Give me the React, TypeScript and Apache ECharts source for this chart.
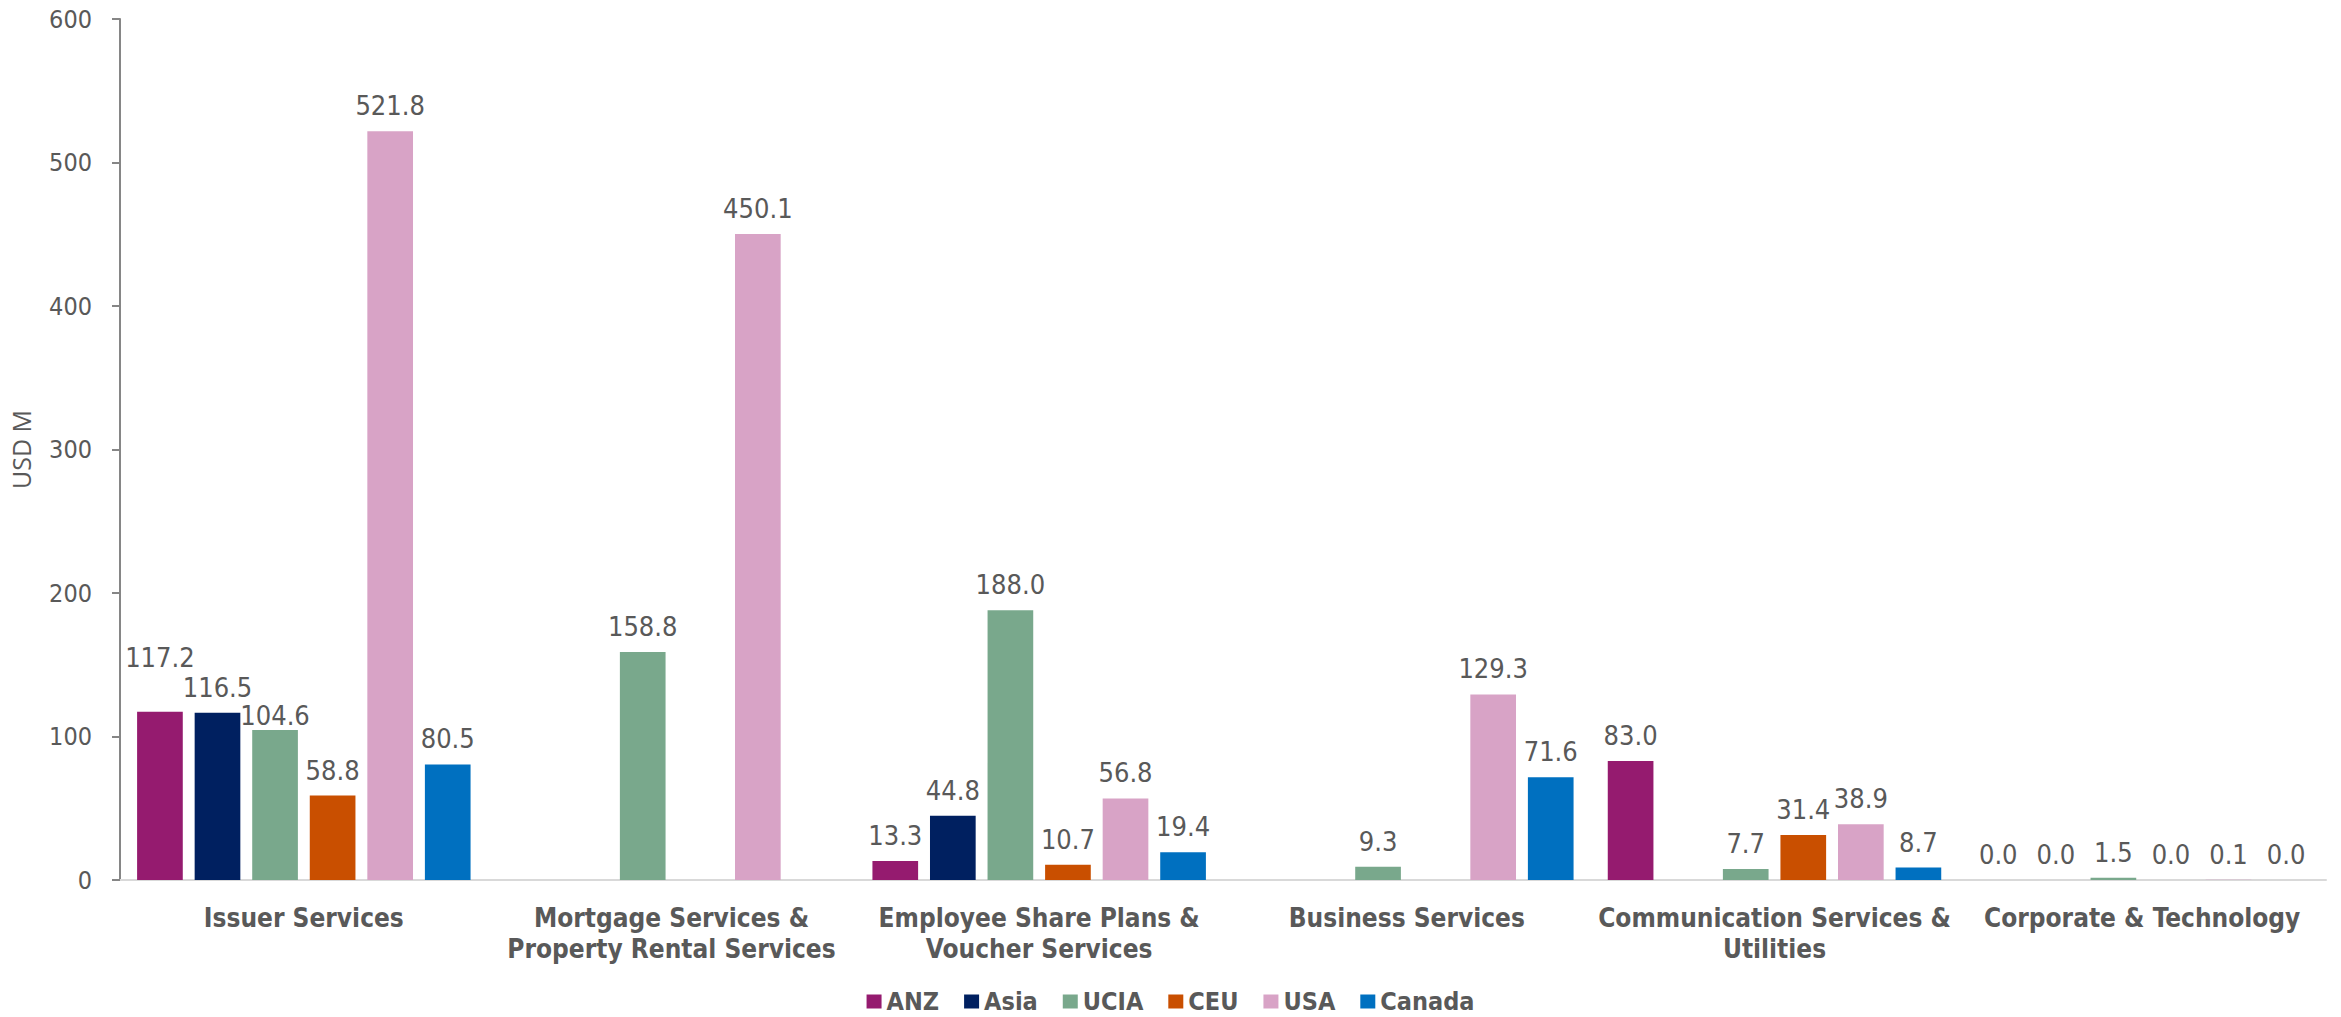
import React, { useEffect, useRef } from "react";
import * as echarts from "echarts";

const categories = [
  "Issuer Services",
  "Mortgage Services &\nProperty Rental Services",
  "Employee Share Plans &\nVoucher Services",
  "Business Services",
  "Communication Services &\nUtilities",
  "Corporate & Technology",
];

const seriesNames = ["ANZ", "Asia", "UCIA", "CEU", "USA", "Canada"];
const anz = [117.2, null, 13.3, null, 83.0, 0.0];
const asia = [116.5, null, 44.8, null, null, 0.0];
const ucia = [104.6, 158.8, 188.0, 9.3, 7.7, 1.5];
const ceu = [58.8, null, 10.7, null, 31.4, 0.0];
const usa = [521.8, 450.1, 56.8, 129.3, 38.9, 0.1];
const canada = [80.5, null, 19.4, 71.6, 8.7, 0.0];
const seriesData = [anz, asia, ucia, ceu, usa, canada];
const colors = ["#951B6F", "#002060", "#79A88C", "#C94F00", "#D8A3C6", "#0070C0"];

// label stagger (series index, category index) -> vertical shift, as in the reference
const labelShifts: Record<string, number> = { "0-0": -29, "2-0": 11 };

const yTicks = [0, 100, 200, 300, 400, 500, 600];

const FONT = "'DejaVu Sans Condensed', 'DejaVu Sans', sans-serif";
const TEXT = "#595959";

export default function App() {
  const ref = useRef<HTMLDivElement>(null);
  useEffect(() => {
    if (!ref.current) return;
    const chart = echarts.init(ref.current, undefined, { renderer: "svg" });
    chart.setOption({
      animation: false,
      color: colors,
      legend: {
        data: seriesNames,
        left: "center",
        top: 989,
        padding: 0,
        itemWidth: 15,
        itemHeight: 14,
        itemGap: 25,
        icon: "rect",
        textStyle: {
          color: TEXT,
          fontSize: 25,
          lineHeight: 22,
          fontWeight: "bold",
          fontFamily: FONT,
        },
      },
      grid: { left: 118, right: 15, top: 19, bottom: 137 },
      xAxis: {
        type: "category",
        data: categories,
        axisLine: { show: true, lineStyle: { color: "#D9D9D9", width: 2 } },
        axisTick: { show: false },
        axisLabel: {
          interval: 0,
          margin: 22,
          color: TEXT,
          fontSize: 26,
          lineHeight: 31,
          fontWeight: "bold",
          fontFamily: FONT,
        },
      },
      yAxis: {
        type: "value",
        min: yTicks[0],
        max: yTicks[yTicks.length - 1],
        interval: 100,
        name: "USD M",
        nameLocation: "middle",
        nameGap: 87,
        nameTextStyle: { color: TEXT, fontSize: 25, fontFamily: "'Open Sans', sans-serif" },
        splitLine: { show: false },
        axisLine: { show: true, lineStyle: { color: "#868686", width: 2 } },
        axisTick: { show: true, length: 8, lineStyle: { color: "#868686", width: 2 } },
        axisLabel: { margin: 28, color: TEXT, fontSize: 25, fontFamily: FONT },
      },
      series: seriesNames.map((name, i) => ({
        name,
        type: "bar",
        data: seriesData[i].map((v, j) => {
          const s = labelShifts[i + "-" + j];
          return s === undefined ? v : { value: v, label: { offset: [0, s] } };
        }),
        barGap: "26%",
        barCategoryGap: "9.3%",
        itemStyle: { color: colors[i] },
        label: {
          show: true,
          position: "top",
          distance: 12,
          color: TEXT,
          fontSize: 27,
          fontFamily: FONT,
          formatter: (p: any) => (p.value == null ? "" : Number(p.value).toFixed(1)),
        },
      })),
    });
    return () => chart.dispose();
  }, []);
  return (
    <div
      ref={ref}
      style={{ position: "fixed", left: 0, top: 0, width: 2341, height: 1017, background: "#fff" }}
    />
  );
}
